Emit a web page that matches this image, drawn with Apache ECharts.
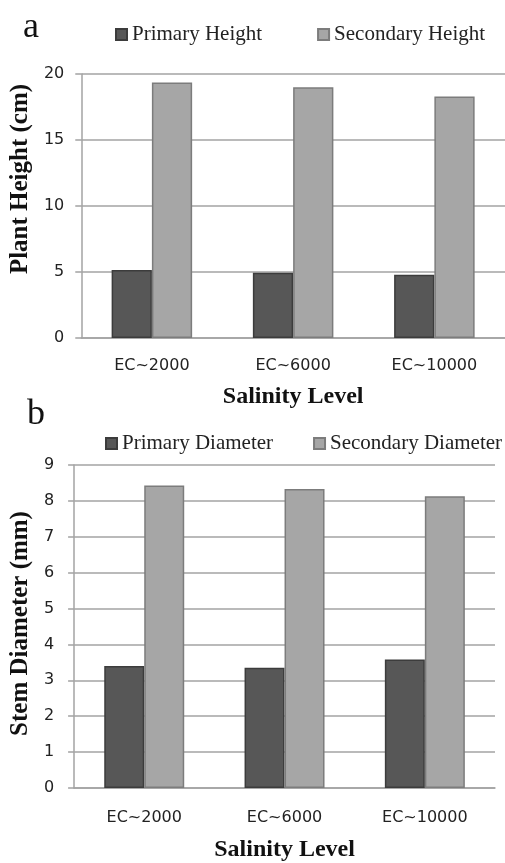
<!DOCTYPE html>
<html>
<head>
<meta charset="utf-8">
<script src="https://cdn.jsdelivr.net/npm/echarts@6/dist/echarts.min.js"></script>
<style>
html,body{margin:0;padding:0;background:#fff;}
#c{width:505px;height:863px;}
</style>
</head>
<body>
<div id="c"></div>
<script>
var categories = ['EC~2000', 'EC~6000', 'EC~10000'];
var primaryHeight = [5.15, 4.95, 4.8];
var secondaryHeight = [19.35, 19.0, 18.3];
var primaryDiameter = [3.4, 3.35, 3.58];
var secondaryDiameter = [8.43, 8.33, 8.13];
var heightTicks = {min: 0, max: 20, interval: 5};
var diameterTicks = {min: 0, max: 9, interval: 1};

var DARK = '#575757', LIGHT = '#a6a6a6', GRID = '#a3a3a3';
var serif = '"Liberation Serif", "DejaVu Serif", serif';
var sans = '"DejaVu Sans", sans-serif';

function xAx(gi, margin, nameGap) {
  return {
    type: 'category', gridIndex: gi, data: categories,
    axisLine: {lineStyle: {color: GRID, width: 1.5}},
    axisTick: {show: false},
    axisLabel: {color: '#222', fontFamily: sans, fontSize: 16, margin: margin},
    name: 'Salinity Level', nameLocation: 'middle', nameGap: nameGap,
    nameTextStyle: {fontFamily: serif, fontWeight: 'bold', fontSize: 24, color: '#111'}
  };
}
function yAx(gi, t, name, nameGap, margin, fs, pad) {
  return {
    type: 'value', gridIndex: gi, min: t.min, max: t.max, interval: t.interval,
    axisLine: {show: true, lineStyle: {color: GRID, width: 1.5}},
    axisTick: {show: true, length: 6, lineStyle: {color: GRID, width: 1.5}},
    splitLine: {lineStyle: {color: GRID, width: 1.5}},
    axisLabel: {color: '#222', fontFamily: sans, fontSize: 16, margin: margin},
    name: name, nameLocation: 'middle', nameGap: nameGap,
    nameTextStyle: {fontFamily: serif, fontWeight: 'bold', fontSize: fs, color: '#111', padding: pad}
  };
}
function bar(name, data, gi, color, border) {
  return {
    type: 'bar', name: name, data: data, xAxisIndex: gi, yAxisIndex: gi,
    barGap: '0%', barCategoryGap: '43%',
    itemStyle: {color: color, borderColor: border, borderWidth: 1.5},
    emphasis: {disabled: true}
  };
}
var legendText = {fontFamily: serif, fontSize: 21, color: '#222'};

var chart = echarts.init(document.getElementById('c'));
chart.setOption({
  animation: false,
  backgroundColor: '#fff',
  grid: [
    {left: 80, width: 435, top: 74, height: 264},
    {left: 72, right: 10, top: 465, height: 328}
  ],
  title: [
    {text: 'a', left: 18, top: 5, textStyle: {fontFamily: serif, fontWeight: 'normal', fontSize: 36, color: '#111'}},
    {text: 'b', left: 22, top: 392, textStyle: {fontFamily: serif, fontWeight: 'normal', fontSize: 36, color: '#111'}}
  ],
  legend: [
    {data: ['Primary Height', 'Secondary Height'], left: 115, right: 0, top: 24, itemGap: 55,
     padding: 0, icon: 'rect', itemWidth: 11, itemHeight: 11, textStyle: legendText},
    {data: ['Primary Diameter', 'Secondary Diameter'], left: 105, right: 0, top: 433, itemGap: 40,
     padding: 0, icon: 'rect', itemWidth: 11, itemHeight: 11, textStyle: legendText}
  ],
  xAxis: [xAx(0, 20, 47), xAx(1, 22, 50)],
  yAxis: [
    yAx(0, heightTicks, 'Plant Height (cm)', 42, 17, 25, [0, 0, 0, 54]),
    yAx(1, diameterTicks, 'Stem Diameter (mm)', 36, 20, 25, [0, 0, 0, 6])
  ],
  series: [
    bar('Primary Height', primaryHeight, 0, DARK, '#3c3c3c'),
    bar('Secondary Height', secondaryHeight, 0, LIGHT, '#7c7c7c'),
    bar('Primary Diameter', primaryDiameter, 1, DARK, '#3c3c3c'),
    bar('Secondary Diameter', secondaryDiameter, 1, LIGHT, '#7c7c7c')
  ]
});
</script>
</body>
</html>
